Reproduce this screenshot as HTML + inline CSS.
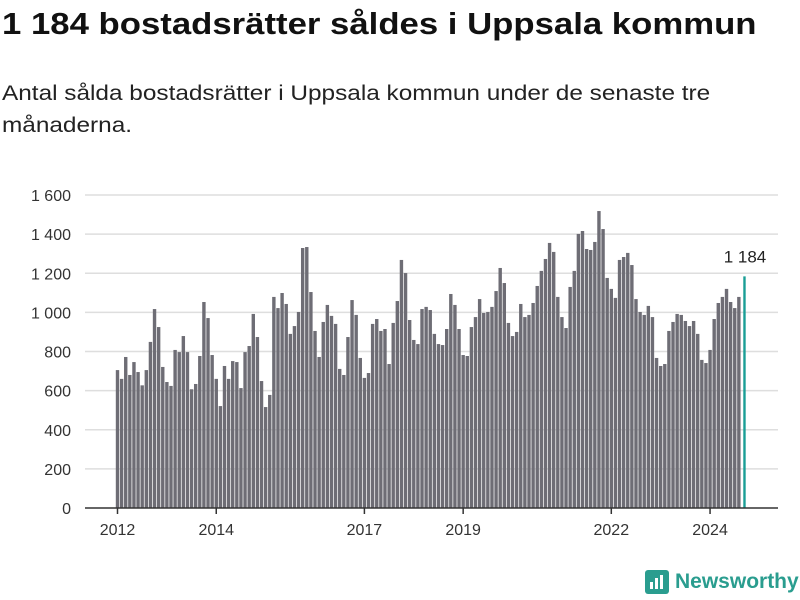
<!DOCTYPE html>
<html><head><meta charset="utf-8"><style>
body{margin:0;width:800px;height:600px;background:#fff;font-family:"Liberation Sans",sans-serif;overflow:hidden;position:relative}
h1{position:absolute;left:2px;top:6px;margin:0;font-size:31px;font-weight:bold;color:#111;transform:scaleX(1.12);transform-origin:left top;white-space:nowrap}
p{position:absolute;left:2px;top:78px;margin:0;font-size:21px;line-height:32px;color:#222;transform:scaleX(1.16);transform-origin:left top;white-space:nowrap}
</style></head><body>
<h1>1 184 bostadsrätter såldes i Uppsala kommun</h1>
<p>Antal sålda bostadsrätter i Uppsala kommun under de senaste tre<br>månaderna.</p>
<svg id="chart" width="800" height="600" style="position:absolute;left:0;top:0"></svg>
<div style="position:absolute;left:645px;top:570px;display:flex;align-items:center">
<svg width="24" height="24"><rect x="0" y="0" width="24" height="24" rx="3" fill="#2a9d8f"/><rect x="5" y="12" width="3" height="7" fill="#fff"/><rect x="10" y="8" width="3" height="11" fill="#fff"/><rect x="15" y="5" width="3" height="14" fill="#fff"/></svg>
<span style="margin-left:6px;font-size:21px;font-weight:bold;color:#2a9d8f">Newsworthy</span></div>
<script>
const values = [
705,660,772,680,746,695,627,705,849,1017,925,721,
644,624,808,797,879,797,607,634,777,1053,971,782,
660,521,726,660,751,746,613,797,828,992,874,649,
516,578,1079,1022,1099,1043,890,930,1002,1329,1334,1104,
905,772,951,1038,982,941,711,680,874,1063,987,767,
665,690,941,966,905,915,736,946,1058,1268,1201,961,
859,838,1017,1028,1012,890,838,833,915,1094,1038,915,
782,777,925,976,1068,997,1002,1028,1109,1227,1150,946,
879,900,1043,976,987,1048,1135,1212,1273,1355,1309,1079,
976,920,1130,1212,1401,1416,1324,1319,1360,1518,1426,1176,
1120,1074,1268,1283,1304,1242,1068,1002,987,1033,976,767,
726,736,905,951,992,987,956,930,956,890,757,741,
808,966,1048,1079,1120,1053,1022,1079,1184];
const yTicks = [0,200,400,600,800,1000,1200,1400,1600];
const yTickLabels = ["0","200","400","600","800","1 000","1 200","1 400","1 600"];
const xTickYears = [2012,2014,2017,2019,2022,2024];
const startYear = 2012;
const lastLabel = "1 184";

const svg=document.getElementById('chart');
const NS='http://www.w3.org/2000/svg';
const y0=508,y1=195,yMax=1600;
const y=v=>y0-(v/yMax)*(y0-y1);
const xOf=i=>117.5+i*4.115;
function mk(t,a){const e=document.createElementNS(NS,t);for(const k in a)e.setAttribute(k,a[k]);svg.appendChild(e);return e;}
yTicks.forEach((t,i)=>{
  if(t>0){const g=mk('line',{x1:85,x2:778,y1:y(t),y2:y(t),stroke:'#dedede','stroke-width':1.5});
  
  }
  const l=mk('text',{x:71,y:y(t)+6,'text-anchor':'end','font-size':16,fill:'#333'});
  l.textContent=yTickLabels[i];
  
  
});
values.forEach((v,i)=>{
  const last=i===values.length-1;
  const w=last?2.4:3.4;
  const b=mk('rect',{x:xOf(i)-w/2+(last?1.5:0),y:y(v),width:w,height:y0-y(v),fill:last?'#1a9e96':'#6e6d75'});
  
  
});
const ax=mk('line',{x1:85,x2:778,y1:y0,y2:y0,stroke:'#333','stroke-width':1.5});


xTickYears.forEach(yr=>{
  const x=xOf((yr-startYear)*12);
  const t=mk('line',{x1:x,x2:x,y1:y0,y2:y0+6,stroke:'#333','stroke-width':1.5});
  
  
  const l=mk('text',{x:x,y:y0+27,'text-anchor':'middle','font-size':16,fill:'#333'});
  l.textContent=yr;
  
  
});
const li=values.length-1;
const la=mk('text',{x:xOf(li)+2,y:y(values[li])-14,'text-anchor':'middle','font-size':17,fill:'#222'});
la.textContent=lastLabel;


</script>
</body></html>
